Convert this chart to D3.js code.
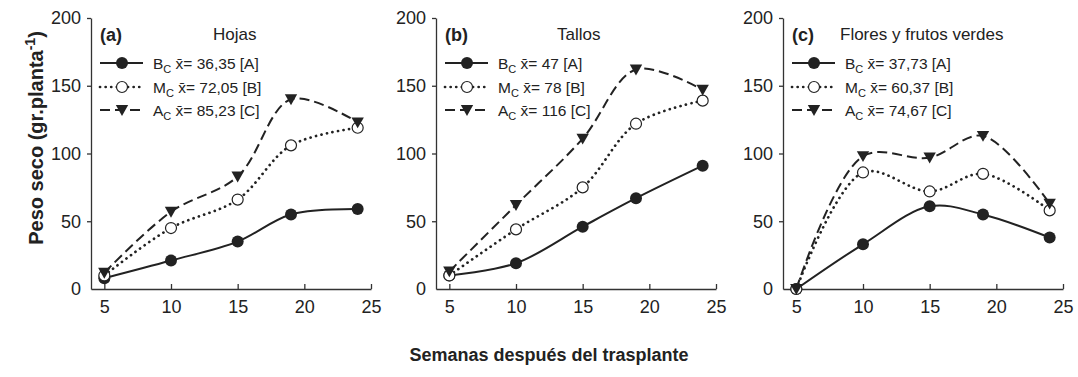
<!DOCTYPE html>
<html>
<head>
<meta charset="utf-8">
<script src="https://cdn.jsdelivr.net/npm/d3@7"></script>
<style>
  body { margin: 0; background: #fff; }
  svg { font-family: "Liberation Sans", Arial, sans-serif; }
  .tick text { font-size: 18px; fill: #222; }
  .domain, .tick line { stroke: #333; stroke-width: 1.3px; }
</style>
</head>
<body>
<svg id="chart" width="1078" height="377"></svg>
<script>
// weeks after transplant
var weeks = [5, 10, 15, 19, 24]

var panels = ['(a)', '(b)', '(c)']
var panelTitles = ['Hojas', 'Tallos', 'Flores y frutos verdes']
var seriesNames = ['B', 'M', 'A']

// Hojas
var hojasB = [8, 21, 35, 55, 59]
var hojasM = [10, 45, 66, 106, 119]
var hojasA = [12, 57, 83, 140, 123]
// Tallos
var tallosB = [10, 19, 46, 67, 91]
var tallosM = [10, 44, 75, 122, 139]
var tallosA = [13, 62, 111, 162, 147]
// Flores y frutos verdes
var floresB = [0, 33, 61, 55, 38]
var floresM = [0, 86, 72, 85, 58]
var floresA = [0, 98, 97, 113, 63]

var legendMeans = [
  ['36,35 [A]', '72,05 [B]', '85,23 [C]'],
  ['47 [A]', '78 [B]', '116 [C]'],
  ['37,73 [A]', '60,37 [B]', '74,67 [C]']
]
var panelData = [
  [hojasB, hojasM, hojasA],
  [tallosB, tallosM, tallosA],
  [floresB, floresM, floresA]
]

var xTicks = [5, 10, 15, 20, 25]
var yTicks = [0, 50, 100, 150, 200]

var svg = d3.select('#chart')
var ink = '#222'

var panelLeft = [91, 436, 783]
var titleOffset = [122, 121, 57]
var yTop = 18, yBottom = 289, w = 280

var y = d3.scaleLinear().domain([0, 200]).range([yBottom, yTop])

var line = d3.line().curve(d3.curveCatmullRom.alpha(0.5))

var dashes = ['none', '0.1 5.5', '10 5']
var widths = [2, 2.7, 2]

function marker (g, k, cx, cy){
  if (k == 0) {
    g.append('circle').attr('cx', cx).attr('cy', cy).attr('r', 6).attr('fill', ink)
  } else if (k == 1) {
    g.append('circle').attr('cx', cx).attr('cy', cy).attr('r', 5.5)
      .attr('fill', '#fff').attr('stroke', ink).attr('stroke-width', 1.2)
  } else {
    var s = 6.2
    g.append('path')
      .attr('d', 'M' + (cx - s) + ',' + (cy - s * 0.8) + 'L' + (cx + s) + ',' + (cy - s * 0.8) + 'L' + cx + ',' + (cy + s * 0.95) + 'Z')
      .attr('fill', ink)
  }
}

panels.forEach(function(p, i){
  var x0 = panelLeft[i]
  var x = d3.scaleLinear().domain([4, 25]).range([x0, x0 + w])
  var g = svg.append('g')

  g.append('g')
    .attr('transform', 'translate(0,' + yBottom + ')')
    .call(d3.axisBottom(x).tickValues(xTicks).tickSizeInner(-5).tickSizeOuter(0).tickPadding(11))

  g.append('g')
    .attr('transform', 'translate(' + x0 + ',0)')
    .call(d3.axisLeft(y).tickValues(yTicks).tickSizeInner(4).tickSizeOuter(0).tickPadding(6))

  g.selectAll('.tick line').filter(function(d){ return d === 0 }).remove()

  // series
  panelData[i].forEach(function(vals, k){
    var pts = weeks.map(function(wk, j){ return [x(wk), y(vals[j])] })
    g.append('path')
      .attr('d', line(pts))
      .attr('fill', 'none')
      .attr('stroke', ink)
      .attr('stroke-width', widths[k])
      .attr('stroke-linecap', k == 1 ? 'round' : 'butt')
      .attr('stroke-dasharray', dashes[k])
  })
  panelData[i].forEach(function(vals, k){
    weeks.forEach(function(wk, j){ marker(g, k, x(wk), y(vals[j])) })
  })

  // titles
  g.append('text').attr('x', x0 + 9).attr('y', 41)
    .attr('font-size', 18).attr('font-weight', 'bold').attr('fill', ink).text(p)
  g.append('text').attr('x', x0 + titleOffset[i]).attr('y', 40)
    .attr('font-size', 17).attr('fill', ink).text(panelTitles[i])

  // legend
  var rows = [63, 87, 110]
  seriesNames.forEach(function(nm, k){
    var ly = rows[k]
    g.append('line')
      .attr('x1', x0 + 9).attr('x2', x0 + 52).attr('y1', ly).attr('y2', ly)
      .attr('stroke', ink).attr('stroke-width', widths[k])
      .attr('stroke-linecap', k == 1 ? 'round' : 'butt')
      .attr('stroke-dasharray', dashes[k])
    marker(g, k, x0 + 31, ly)
    var t = g.append('text').attr('x', x0 + 62).attr('y', ly + 5.5)
      .attr('font-size', 15.5).attr('fill', ink)
    t.append('tspan').text(nm)
    t.append('tspan').attr('font-size', 11).attr('dy', 4).text('C')
    t.append('tspan').attr('dy', -4).text(' x\u0304= ' + legendMeans[i][k])
  })
})

// axis titles
var yl = svg.append('text')
  .attr('transform', 'translate(43,138) rotate(-90)')
  .attr('text-anchor', 'middle')
  .attr('font-size', 20).attr('font-weight', 'bold').attr('fill', ink)
yl.append('tspan').text('Peso seco (gr.planta')
yl.append('tspan').attr('font-size', 14).attr('dy', -8).text('-1')
yl.append('tspan').attr('dy', 8).text(')')

svg.append('text')
  .attr('x', 549).attr('y', 361)
  .attr('text-anchor', 'middle')
  .attr('font-size', 18).attr('font-weight', 'bold').attr('fill', ink)
  .text('Semanas después del trasplante')
</script>
</body>
</html>
